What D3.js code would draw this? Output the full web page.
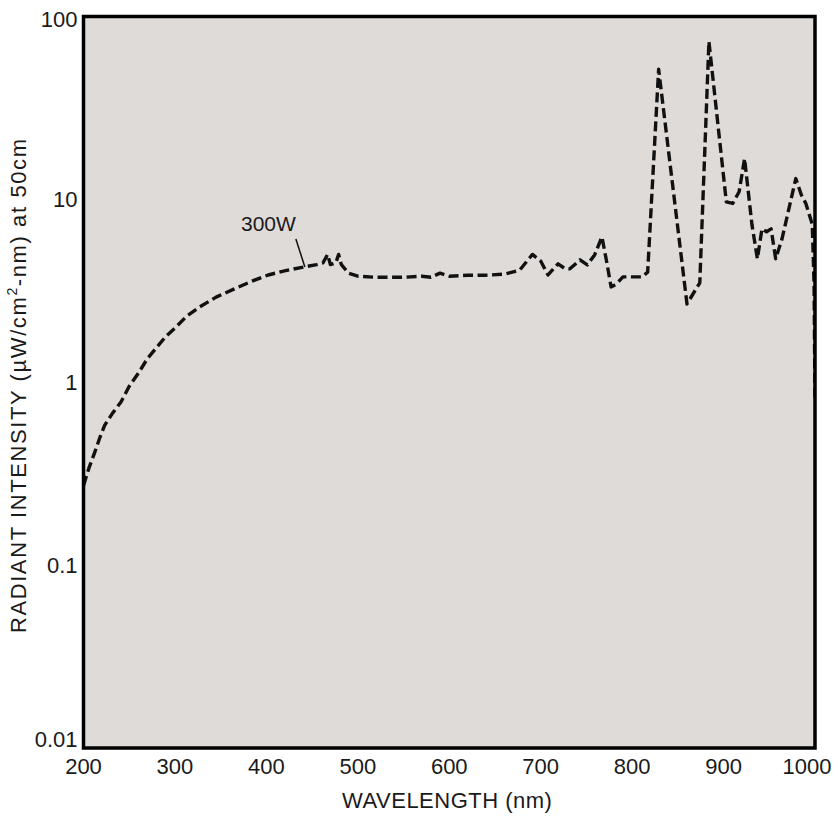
<!DOCTYPE html>
<html>
<head>
<meta charset="utf-8">
<script src="https://cdn.jsdelivr.net/npm/d3@7"></script>
<style>
  html, body { margin: 0; padding: 0; background: #ffffff; }
  svg { display: block; }
  text { font-family: "Liberation Sans", Arial, Helvetica, sans-serif; fill: #1a1a1a; }
</style>
</head>
<body>
<svg id="chart" width="838" height="817"></svg>
<script>
// ---- data ----
const wavelengths = [200, 206, 212, 218, 223, 232, 241, 250, 260, 270, 280, 290, 300, 313, 327, 345, 365, 383, 402, 421, 441, 455, 462,
  467, 470, 476, 479, 482, 490, 500, 520, 550, 570, 580, 590, 600, 620, 640, 660, 677, 691, 700, 708, 719, 726, 732, 743, 751, 759, 767,
  772, 777, 783, 790, 811, 817, 829, 860, 874, 884, 903, 910, 917, 923, 931, 937, 942, 947, 952, 957, 964, 979, 985, 990, 997, 999, 1000];
const intensity = [0.272, 0.34, 0.41, 0.5, 0.58, 0.68, 0.78, 0.95, 1.12, 1.35, 1.55, 1.78, 1.98, 2.3, 2.58, 2.92, 3.24, 3.55, 3.86, 4.08, 4.27, 4.4, 4.5,
  5.0, 4.4, 4.5, 5.0, 4.4, 3.95, 3.8, 3.75, 3.75, 3.8, 3.75, 3.95, 3.8, 3.85, 3.85, 3.9, 4.1, 5.0, 4.6, 3.86, 4.44, 4.2, 4.17, 4.67, 4.38, 4.97, 6.24,
  4.6, 3.32, 3.45, 3.77, 3.77, 4.0, 51.5, 2.68, 3.5, 73, 9.7, 9.5, 11, 16.7, 7.3, 4.73, 6.9, 6.65, 6.9, 4.73, 6.1, 13, 10.6, 9.5, 7.3, 3.4, 0.78];
const xTicks = [200, 300, 400, 500, 600, 700, 800, 900, 1000];
const yTicks = [0.01, 0.1, 1, 10, 100];
const yTickLabels = ["0.01", "0.1", "1", "10", "100"];
const seriesLabel = "300W";
const seriesLabelAt = 441;
const xTitle = "WAVELENGTH (nm)";
const yTitleParts = ["RADIANT INTENSITY (\u00B5W/cm", "2", "-nm) at 50cm"];

// ---- layout ----
const svg = d3.select("#chart");
const pLeft = 83.5, pRight = 815, pTop = 16.5, pBottom = 748;
const x = d3.scaleLinear().domain([200, 1000]).range([pLeft, pRight]);
const y = d3.scaleLog().domain([0.01, 100]).range([pBottom, pTop]);

svg.append("rect").attr("x", pLeft).attr("y", pTop).attr("width", pRight - pLeft).attr("height", pBottom - pTop)
  .attr("fill", "#dfdbd9");

svg.append("clipPath").attr("id", "clip").append("rect")
  .attr("x", pLeft).attr("y", pTop).attr("width", pRight - pLeft).attr("height", pBottom - pTop);

const data = wavelengths.map((w, i) => ({ w, v: intensity[i] }));
const line = d3.line().x(d => x(d.w)).y(d => y(d.v)).curve(d3.curveLinear);

svg.append("path").datum(data).attr("d", line)
  .attr("clip-path", "url(#clip)")
  .attr("fill", "none").attr("stroke", "#111").attr("stroke-width", 3.4)
  .attr("stroke-dasharray", "10,4.5").attr("stroke-linejoin", "round");

// frame
svg.append("rect").attr("x", pLeft).attr("y", pTop).attr("width", pRight - pLeft).attr("height", pBottom - pTop)
  .attr("fill", "none").attr("stroke", "#000").attr("stroke-width", 3.5);

// x tick labels
svg.append("g").selectAll("text").data(xTicks).join("text")
  .attr("x", (d, i) => i === xTicks.length - 1 ? x(d) - 8 : x(d))
  .attr("y", pBottom + 26)
  .attr("text-anchor", "middle")
  .attr("font-size", 22)
  .text(d => d);

// y tick labels
svg.append("g").selectAll("text").data(yTicks).join("text")
  .attr("x", pLeft - 6)
  .attr("y", (d, i) => y(d) + 8 - (i === 0 ? 9 : 0) + (i === yTicks.length - 1 ? 2 : 0))
  .attr("text-anchor", "end")
  .attr("font-size", 22)
  .text((d, i) => yTickLabels[i]);

// axis titles
svg.append("text").attr("x", (pLeft + pRight) / 2 - 2).attr("y", 808)
  .attr("text-anchor", "middle").attr("font-size", 22).attr("letter-spacing", 0.5).text(xTitle);

const yt = svg.append("text")
  .attr("transform", `translate(26, ${(pTop + pBottom) / 2 + 3}) rotate(-90)`)
  .attr("text-anchor", "middle").attr("font-size", 22).attr("letter-spacing", 1.6);
yt.append("tspan").text(yTitleParts[0]);
yt.append("tspan").attr("font-size", 14).attr("dy", -9).text(yTitleParts[1]);
yt.append("tspan").attr("dy", 9).text(yTitleParts[2]);

// series label with leader
const lx = x(seriesLabelAt), ly = y(4.27);
svg.append("line").attr("x1", lx - 8).attr("y1", ly - 28).attr("x2", lx + 1).attr("y2", ly)
  .attr("stroke", "#111").attr("stroke-width", 1.5);
svg.append("text").attr("x", lx - 8).attr("y", ly - 36).attr("text-anchor", "end")
  .attr("font-size", 21).text(seriesLabel);
</script>
</body>
</html>
